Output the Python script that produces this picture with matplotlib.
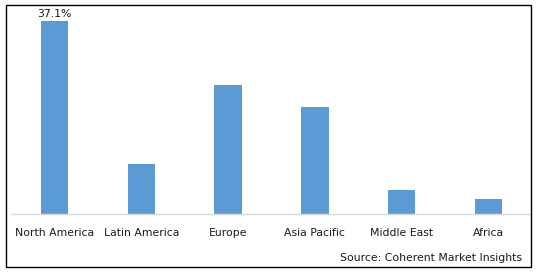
import matplotlib
matplotlib.use("Agg")
import matplotlib.pyplot as plt
from matplotlib.patches import Rectangle

categories = ["North America", "Latin America", "Europe", "Asia Pacific", "Middle East", "Africa"]
values = [37.1, 9.6, 24.8, 20.6, 4.6, 2.9]
top_label = "37.1%"
source = "Source: Coherent Market Insights"

W, H = 538, 272
fig = plt.figure(figsize=(W / 100, H / 100), dpi=100)
slot = 86.8
x0 = 54.5 - slot / 2
x1 = 531
ax_left, ax_right = x0 / W, x1 / W
ax_bottom = 1 - 214 / H
ax_top = 1 - 10 / H
ax = fig.add_axes([ax_left, ax_bottom, ax_right - ax_left, ax_top - ax_bottom])
ymax = 37.1 * (214 - 10) / (214 - 21)
x = range(len(categories))
ax.bar(x, values, width=0.317, color="#5B9BD5", zorder=2)
ax.set_xlim(-0.5, -0.5 + (x1 - x0) / slot)
ax.set_ylim(0, ymax)
for s in ["top", "right", "left"]:
    ax.spines[s].set_visible(False)
ax.spines["bottom"].set_color("#D9D9D9")
ax.spines["bottom"].set_linewidth(1.0)
ax.set_yticks([])
ax.set_xticks(list(x))
ax.set_xticklabels(categories, fontsize=7.8, color="#1a1a1a")
ax.tick_params(axis="x", length=0, pad=10)
ax.text(0, values[0] + 0.3, top_label, ha="center", va="bottom", fontsize=7.8, color="#1a1a1a")
fig.text(522 / W, 1 - 258 / H, source, ha="right", va="center", fontsize=7.8, color="#1a1a1a")
fig.patches.append(Rectangle((5.5 / W, 1 - 266.5 / H), 525 / W, 262 / H, transform=fig.transFigure,
                             fill=False, edgecolor="black", linewidth=1.0))
fig.savefig("out.png", dpi=100)
